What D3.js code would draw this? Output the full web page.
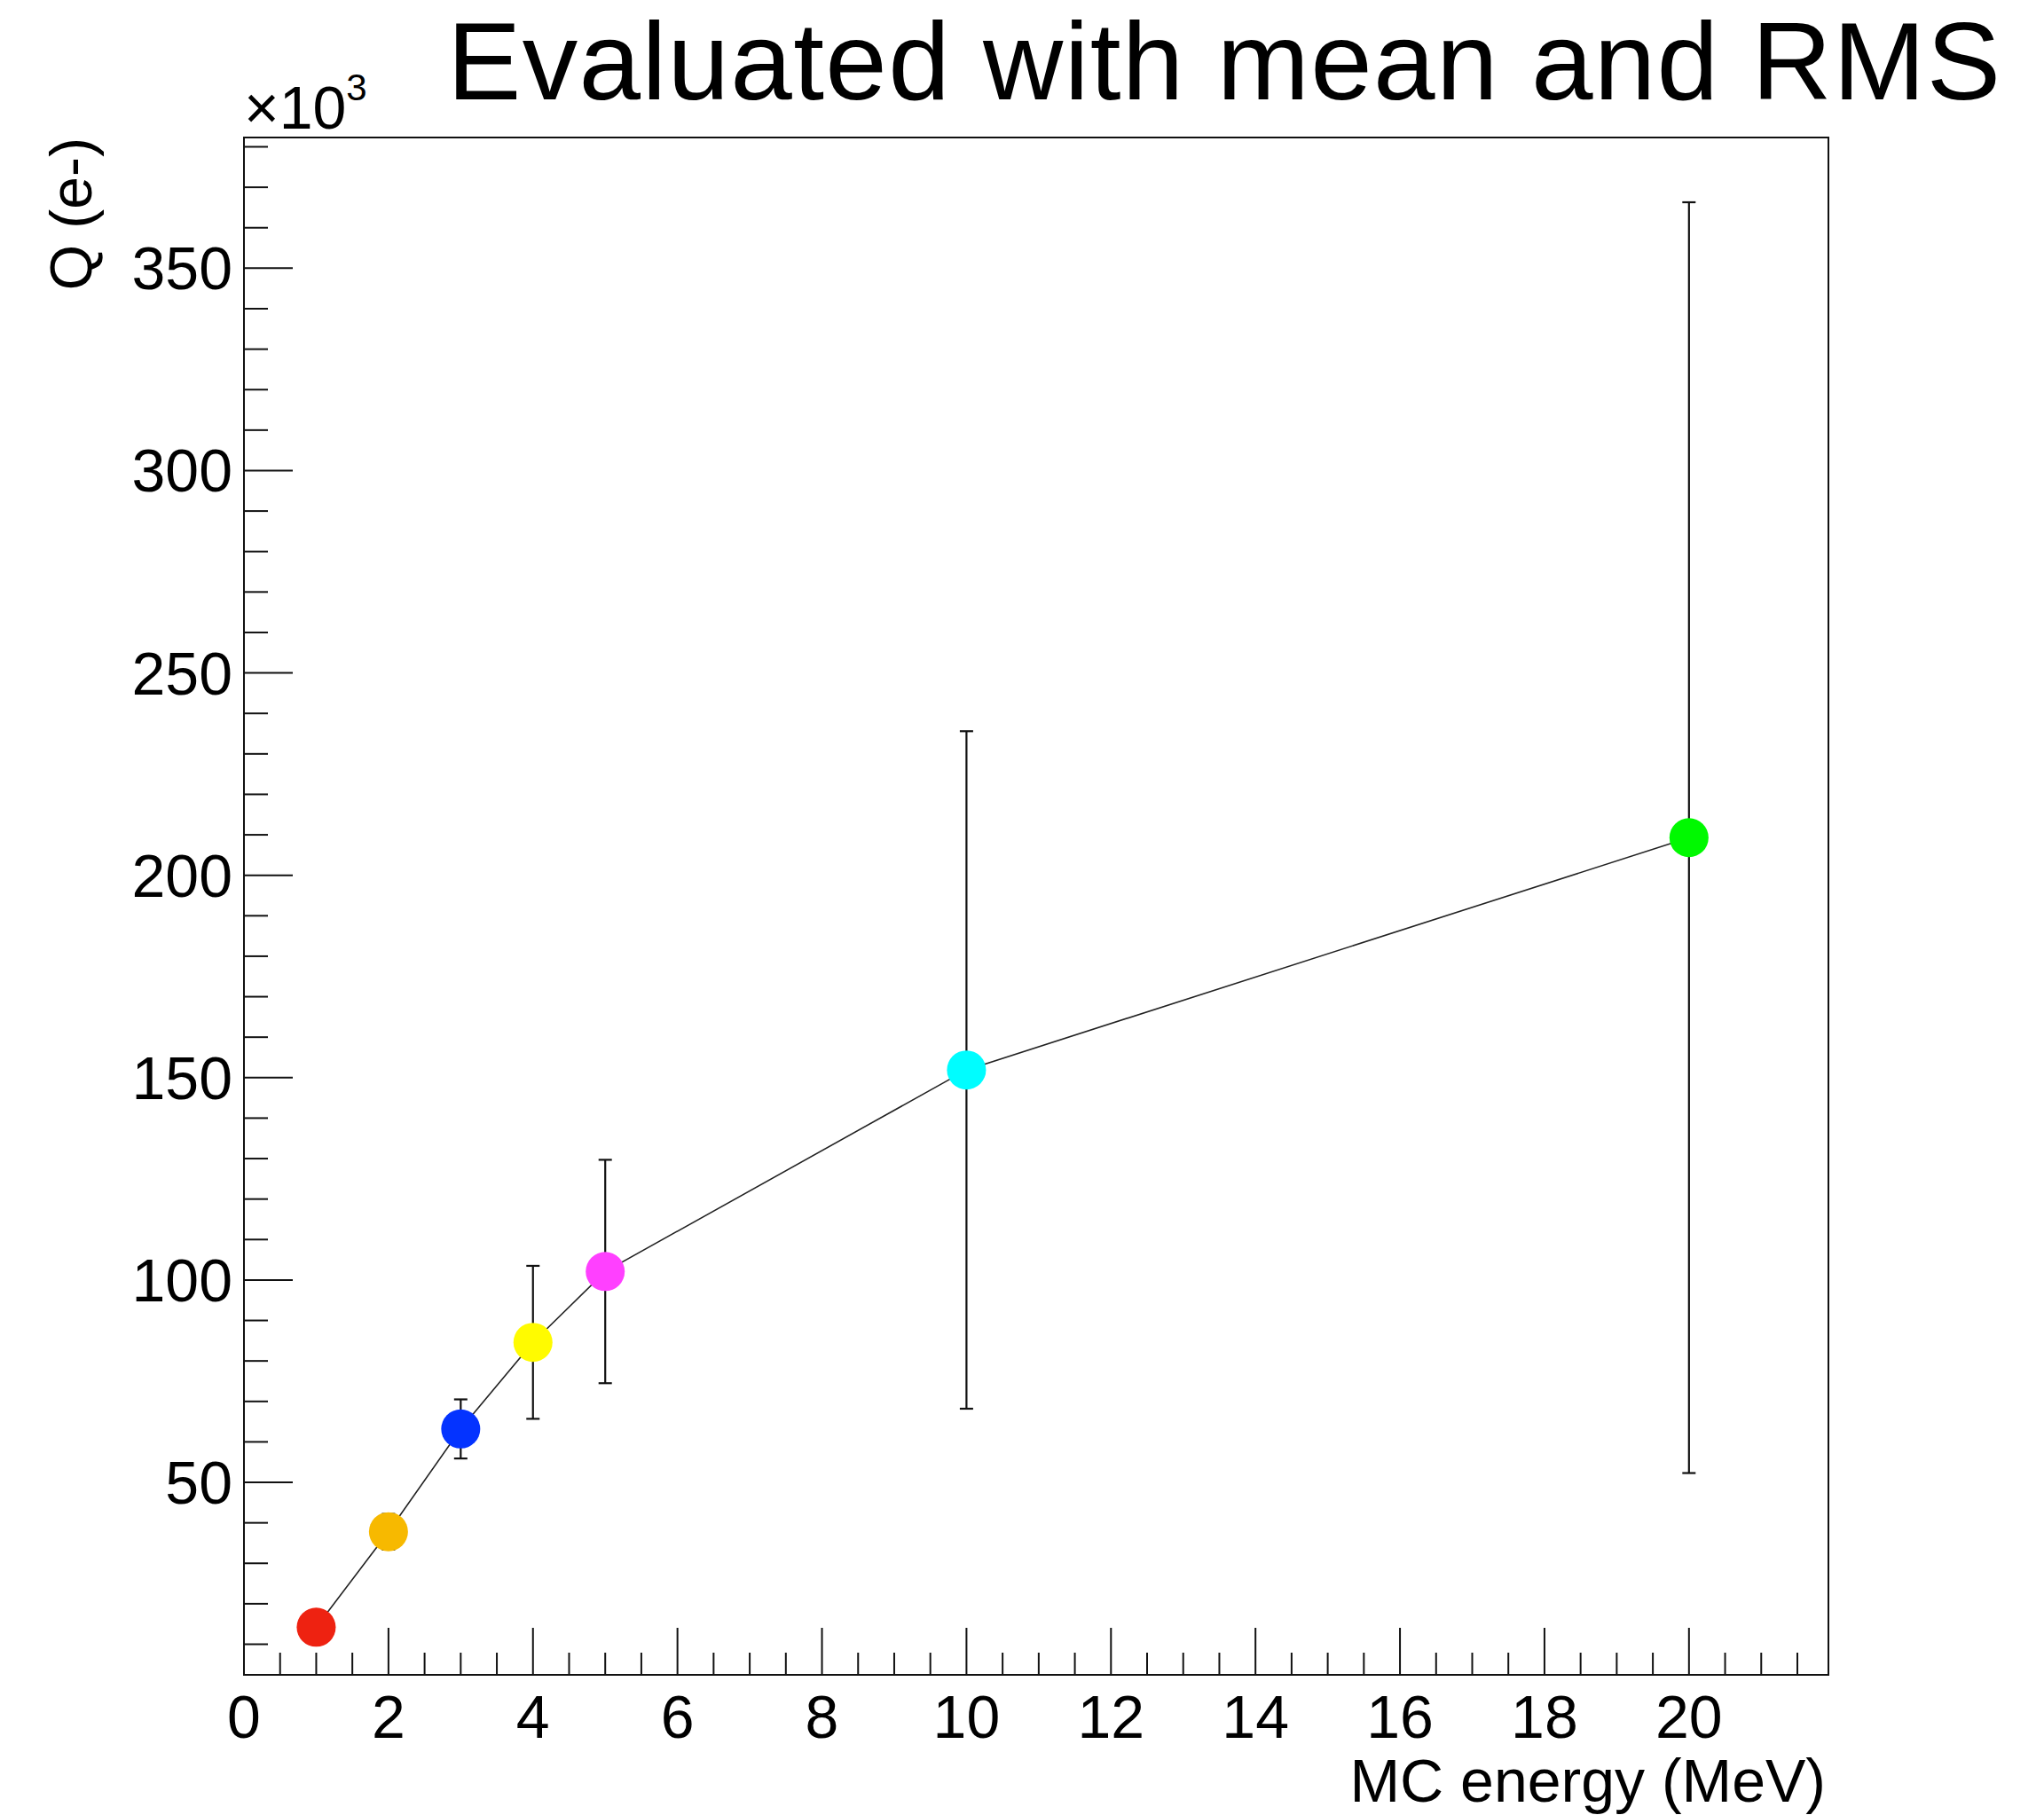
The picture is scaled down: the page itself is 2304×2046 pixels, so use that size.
<!DOCTYPE html>
<html>
<head>
<meta charset="utf-8">
<script src="https://cdn.jsdelivr.net/npm/d3@7"></script>
<style>
    body { margin: 0; background: #fff; }
    text { font-family: "Liberation Sans", Arial, Helvetica, sans-serif; fill: #000; }
</style>
</head>
<body>
<div id="chart"></div>
<script>
// MC energy (MeV), mean Q (x10^3 e-), RMS (x10^3 e-)
const energies = [1, 2, 3, 4, 5, 10, 20];
const charges = [14.2, 37.8, 63.2, 84.6, 102.1, 151.9, 209.3];
const rms = [2.5, 4.4, 7.3, 18.9, 27.6, 83.7, 157.0];
const pointColors = ['#ee2211', '#f7b900', '#0433ff', '#fffb00', '#ff40ff', '#00fdff', '#00f900'];
const xTicks = [0, 2, 4, 6, 8, 10, 12, 14, 16, 18, 20];
const yTicks = [50, 100, 150, 200, 250, 300, 350];

const W = 2304, H = 2046;
const frame = { left: 275, right: 2061, top: 155, bottom: 1888 };

const svg = d3.select('#chart')
    .append('svg')
    .attr('width', W)
    .attr('height', H);

svg.append('rect').attr('width', W).attr('height', H).attr('fill', '#fff');

const x = d3.scaleLinear().domain([0, 21.93]).range([frame.left, frame.right]);
const y = d3.scaleLinear().domain([2.44, 382.3]).range([frame.bottom, frame.top]);

// Minor ticks (drawn first so the frame sits on top)
const xMinor = d3.range(0.5, 21.9, 0.5).filter(v => v % 2 !== 0);
const yMinor = d3.range(10, 382, 10).filter(v => v % 50 !== 0);

const ticks = svg.append('g').attr('stroke', '#111').attr('stroke-width', 2);

ticks.selectAll('.xminor').data(xMinor).enter().append('line')
    .attr('x1', d => x(d)).attr('x2', d => x(d))
    .attr('y1', frame.bottom).attr('y2', frame.bottom - 25);
ticks.selectAll('.xmajor').data(xTicks).enter().append('line')
    .attr('x1', d => x(d)).attr('x2', d => x(d))
    .attr('y1', frame.bottom).attr('y2', frame.bottom - 53);
ticks.selectAll('.yminor').data(yMinor).enter().append('line')
    .attr('x1', frame.left).attr('x2', frame.left + 27)
    .attr('y1', d => y(d)).attr('y2', d => y(d));
ticks.selectAll('.ymajor').data(yTicks).enter().append('line')
    .attr('x1', frame.left).attr('x2', frame.left + 55)
    .attr('y1', d => y(d)).attr('y2', d => y(d));

// Frame
svg.append('rect')
    .attr('x', frame.left).attr('y', frame.top)
    .attr('width', frame.right - frame.left)
    .attr('height', frame.bottom - frame.top)
    .attr('fill', 'none')
    .attr('stroke', '#111')
    .attr('stroke-width', 2);

// Tick labels
svg.selectAll('.xlabel').data(xTicks).enter().append('text')
    .attr('x', d => x(d))
    .attr('y', 1959)
    .attr('text-anchor', 'middle')
    .style('font-size', '68px')
    .text(d => d);

svg.selectAll('.ylabel').data(yTicks).enter().append('text')
    .attr('x', 262)
    .attr('y', d => y(d) + 24)
    .attr('text-anchor', 'end')
    .style('font-size', '68px')
    .text(d => d);

// Exponent label
const expo = svg.append('text').attr('x', 275).attr('y', 145).style('font-size', '68px');
expo.append('tspan').text('\u00d710');
expo.append('tspan').attr('dy', -32).style('font-size', '42px').text('3');

// Axis titles
svg.append('text')
    .attr('x', 2058).attr('y', 2031)
    .attr('text-anchor', 'end')
    .style('font-size', '68px')
    .text('MC energy (MeV)');

svg.append('text')
    .attr('transform', 'translate(103,155) rotate(-90)')
    .attr('text-anchor', 'end')
    .style('font-size', '66px')
    .text('Q (e-)');

// Title
svg.append('text')
    .attr('x', 504).attr('y', 112)
    .attr('textLength', 1751)
    .attr('lengthAdjust', 'spacing')
    .style('font-size', '125px')
    .text('Evaluated with mean and RMS');

// Data
const data = energies.map((e, i) => ({ e, q: charges[i], err: rms[i], color: pointColors[i] }));

// Error bars
const eb = svg.append('g').attr('stroke', '#111').attr('stroke-width', 2.2);
data.forEach(d => {
    eb.append('line')
        .attr('x1', x(d.e)).attr('x2', x(d.e))
        .attr('y1', y(d.q - d.err)).attr('y2', y(d.q + d.err));
    [d.q - d.err, d.q + d.err].forEach(v => {
        eb.append('line')
            .attr('x1', x(d.e) - 7.5).attr('x2', x(d.e) + 7.5)
            .attr('y1', y(v)).attr('y2', y(v));
    });
});

// Connecting line
svg.append('path')
    .datum(data)
    .attr('fill', 'none')
    .attr('stroke', '#222')
    .attr('stroke-width', 1.6)
    .attr('d', d3.line().x(d => x(d.e)).y(d => y(d.q)));

// Markers
svg.selectAll('.marker').data(data).enter().append('circle')
    .attr('cx', d => x(d.e))
    .attr('cy', d => y(d.q))
    .attr('r', 22)
    .attr('fill', d => d.color);
</script>
</body>
</html>
